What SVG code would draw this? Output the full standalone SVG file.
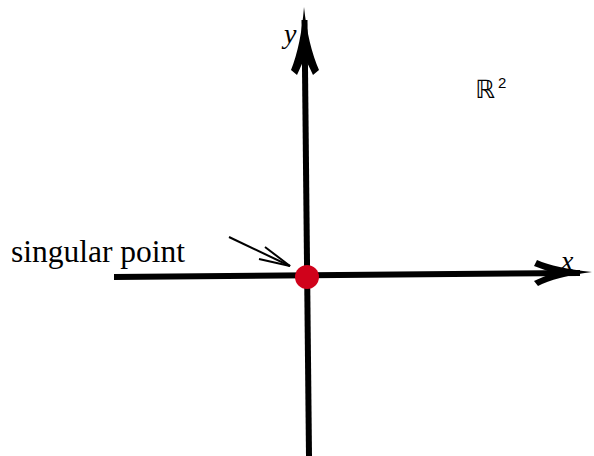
<svg xmlns="http://www.w3.org/2000/svg" width="594" height="456" viewBox="0 0 594 456">
<style>
.axis{stroke:#000;stroke-width:6;fill:none}
.head{fill:#000;stroke:none}
.lbl{font-family:"Liberation Serif",serif;fill:#000}
.it{font-style:italic}
</style>
<rect width="594" height="456" fill="#fff"/>
<g id="connectors">
<line class="axis" x1="309" y1="456" x2="304.5" y2="20"/>
<path class="head" d="M304,7 Q301,45 291,70 L297,75 Q302,64 304.5,58 Q308,64 313,75 L319,70 Q308,45 304,7 Z"/>
<line class="axis" x1="114" y1="277" x2="580" y2="273"/>
<path class="head" d="M592,272 Q555,268 537,260 L534,266 Q545,270 553,273 Q545,276 534,281 L538,286 Q555,277 592,272 Z"/>
<g id="pointer" stroke="#000" stroke-width="2" fill="none">
<line x1="229" y1="237" x2="290" y2="266"/>
<polyline points="265,247 290,266 259,259"/>
</g>
</g>
<g id="singular-point">
<circle cx="307" cy="277" r="12" fill="#d0021b"/>
</g>
<g id="label-singular">
<text class="lbl" x="11" y="262" font-size="31.5">singular point</text>
</g>
<g id="label-y">
<text class="lbl it" x="284" y="43" font-size="28">y</text>
</g>
<g id="label-x">
<text class="lbl it" x="561" y="270" font-size="28">x</text>
</g>
<g id="label-R2">
<text x="475" y="97.5" font-family="DejaVu Sans,sans-serif" font-size="25">ℝ<tspan x="498" y="88" font-family="Liberation Sans,sans-serif" font-size="15">2</tspan></text>
</g>
</svg>
